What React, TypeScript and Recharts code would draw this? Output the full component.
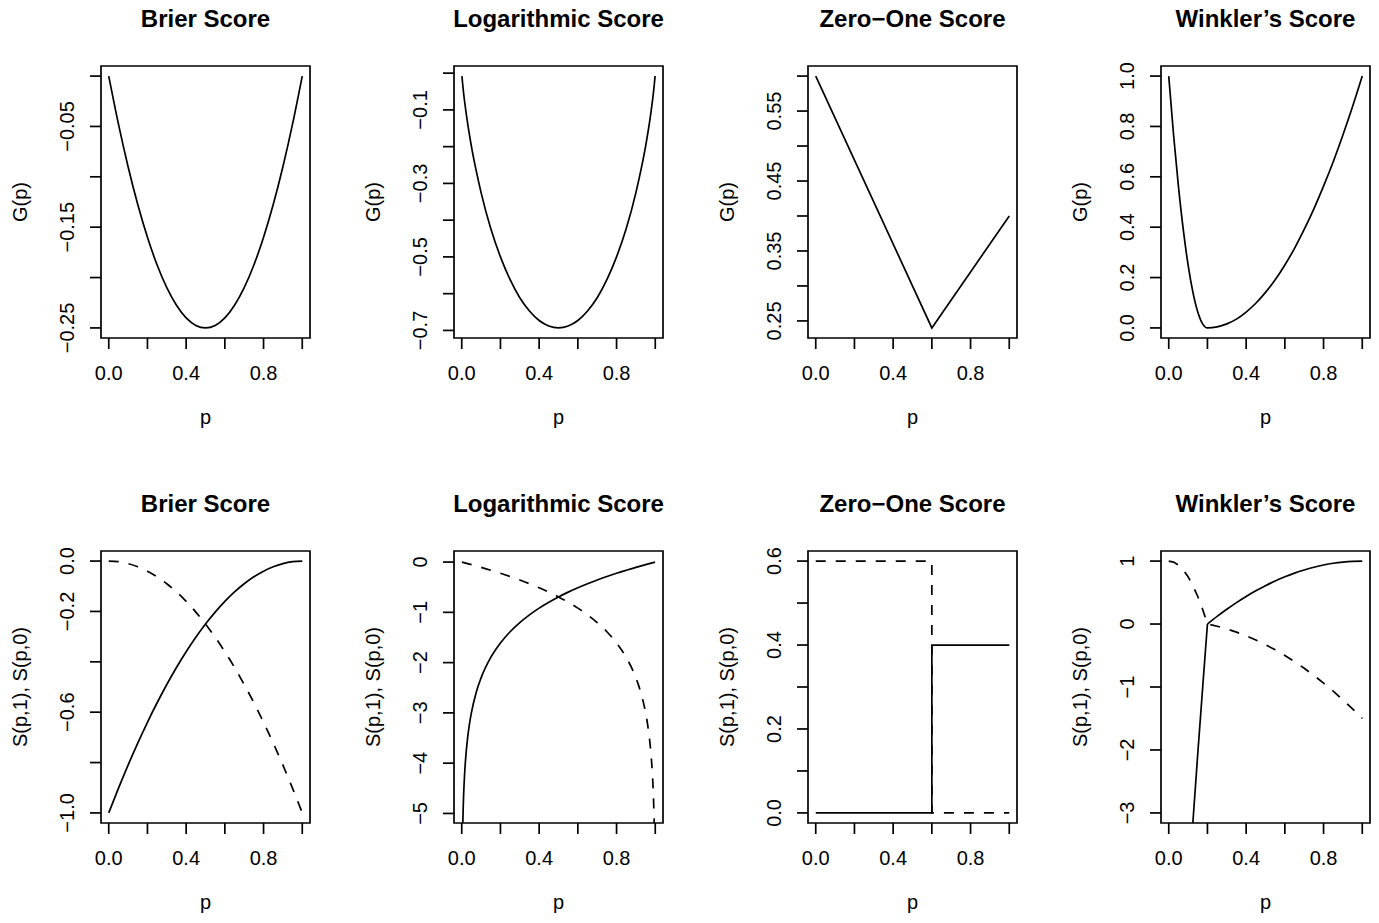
import React from 'react';
import { LineChart, Line, XAxis, YAxis, ReferenceArea } from 'recharts';

const FONT = '"Liberation Sans", Arial, Helvetica, sans-serif';
const INK = '#000000';
const LW = 1.7;

// ---------- shared x axis ----------
const xDomain: [number, number] = [-0.04, 1.04];
const xTicks = [0, 0.2, 0.4, 0.6, 0.8, 1];
const xTickLabels = ['0.0', '', '0.4', '', '0.8', ''];

// ---------- top row: G(p) ----------
const brierGP = [0, 0.05, 0.1, 0.15, 0.2, 0.25, 0.3, 0.35, 0.4, 0.45, 0.5, 0.55, 0.6, 0.65, 0.7, 0.75, 0.8, 0.85, 0.9, 0.95, 1];
const brierG = [0, -0.0475, -0.09, -0.1275, -0.16, -0.1875, -0.21, -0.2275, -0.24, -0.2475, -0.25, -0.2475, -0.24, -0.2275, -0.21, -0.1875, -0.16, -0.1275, -0.09, -0.0475, 0];

const logGP = [0.001, 0.005, 0.01, 0.025, 0.05, 0.075, 0.1, 0.15, 0.2, 0.25, 0.3, 0.35, 0.4, 0.45, 0.5, 0.55, 0.6, 0.65, 0.7, 0.75, 0.8, 0.85, 0.9, 0.925, 0.95, 0.975, 0.99, 0.995, 0.999];
const logG = [-0.008, -0.031, -0.056, -0.117, -0.199, -0.266, -0.325, -0.423, -0.5, -0.562, -0.611, -0.647, -0.673, -0.688, -0.693, -0.688, -0.673, -0.647, -0.611, -0.562, -0.5, -0.423, -0.325, -0.266, -0.199, -0.117, -0.056, -0.031, -0.008];

const zeroOneGP = [0, 0.6, 1];
const zeroOneG = [0.6, 0.24, 0.4];

const winklerGP = [0, 0.025, 0.05, 0.075, 0.1, 0.125, 0.15, 0.175, 0.2, 0.25, 0.3, 0.35, 0.4, 0.45, 0.5, 0.55, 0.6, 0.65, 0.7, 0.75, 0.8, 0.85, 0.9, 0.95, 1];
const winklerG = [1, 0.766, 0.563, 0.391, 0.25, 0.141, 0.063, 0.016, 0, 0.004, 0.016, 0.035, 0.063, 0.098, 0.141, 0.191, 0.25, 0.316, 0.391, 0.473, 0.563, 0.66, 0.766, 0.879, 1];

// ---------- bottom row: S(p,1) solid, S(p,0) dashed ----------
const brierSP = [0, 0.05, 0.1, 0.15, 0.2, 0.25, 0.3, 0.35, 0.4, 0.45, 0.5, 0.55, 0.6, 0.65, 0.7, 0.75, 0.8, 0.85, 0.9, 0.95, 1];
const brierS1 = [-1, -0.9025, -0.81, -0.7225, -0.64, -0.5625, -0.49, -0.4225, -0.36, -0.3025, -0.25, -0.2025, -0.16, -0.1225, -0.09, -0.0625, -0.04, -0.0225, -0.01, -0.0025, 0];
const brierS0 = [0, -0.0025, -0.01, -0.0225, -0.04, -0.0625, -0.09, -0.1225, -0.16, -0.2025, -0.25, -0.3025, -0.36, -0.4225, -0.49, -0.5625, -0.64, -0.7225, -0.81, -0.9025, -1];

const logS1P = [0.001, 0.003, 0.005, 0.0075, 0.01, 0.015, 0.02, 0.03, 0.04, 0.05, 0.075, 0.1, 0.15, 0.2, 0.25, 0.3, 0.35, 0.4, 0.45, 0.5, 0.55, 0.6, 0.65, 0.7, 0.75, 0.8, 0.85, 0.9, 0.95, 0.999];
const logS1 = [-6.908, -5.809, -5.298, -4.893, -4.605, -4.2, -3.912, -3.507, -3.219, -2.996, -2.59, -2.303, -1.897, -1.609, -1.386, -1.204, -1.05, -0.916, -0.799, -0.693, -0.598, -0.511, -0.431, -0.357, -0.288, -0.223, -0.163, -0.105, -0.051, -0.001];
const logS0P = [0.001, 0.05, 0.1, 0.15, 0.2, 0.25, 0.3, 0.35, 0.4, 0.45, 0.5, 0.55, 0.6, 0.65, 0.7, 0.75, 0.8, 0.85, 0.9, 0.925, 0.95, 0.96, 0.97, 0.98, 0.985, 0.99, 0.9925, 0.995, 0.997, 0.999];
const logS0 = [-0.001, -0.051, -0.105, -0.163, -0.223, -0.288, -0.357, -0.431, -0.511, -0.598, -0.693, -0.799, -0.916, -1.05, -1.204, -1.386, -1.609, -1.897, -2.303, -2.59, -2.996, -3.219, -3.507, -3.912, -4.2, -4.605, -4.893, -5.298, -5.809, -6.908];

const zeroOneS1P = [0, 0.6, 0.6, 1];
const zeroOneS1 = [0, 0, 0.4, 0.4];
const zeroOneS0P = [0, 0.6, 0.6, 1];
const zeroOneS0 = [0.6, 0.6, 0, 0];

const winklerS1aP = [0.1, 0.125, 0.15, 0.175, 0.2];
const winklerS1a = [-4.25, -3.14, -2.06, -1.02, 0];
const winklerS1bP = [0.2, 0.25, 0.3, 0.35, 0.4, 0.45, 0.5, 0.55, 0.6, 0.65, 0.7, 0.75, 0.8, 0.85, 0.9, 0.95, 1];
const winklerS1b = [0, 0.121, 0.234, 0.34, 0.438, 0.527, 0.609, 0.684, 0.75, 0.809, 0.859, 0.902, 0.938, 0.965, 0.984, 0.996, 1];
const winklerS0P = [0, 0.025, 0.05, 0.075, 0.1, 0.125, 0.15, 0.175, 0.2, 0.25, 0.3, 0.35, 0.4, 0.45, 0.5, 0.55, 0.6, 0.65, 0.7, 0.75, 0.8, 0.85, 0.9, 0.95, 1];
const winklerS0 = [1, 0.984, 0.938, 0.859, 0.75, 0.609, 0.438, 0.234, 0, -0.035, -0.078, -0.129, -0.188, -0.254, -0.328, -0.41, -0.5, -0.598, -0.703, -0.816, -0.938, -1.066, -1.203, -1.348, -1.5];

// ---------- y axis ticks ----------
const brierGTicks = [0, -0.05, -0.1, -0.15, -0.2, -0.25];
const brierGLabels = ['', '\u22120.05', '', '\u22120.15', '', '\u22120.25'];
const logGTicks = [0, -0.1, -0.2, -0.3, -0.4, -0.5, -0.6, -0.7];
const logGLabels = ['', '\u22120.1', '', '\u22120.3', '', '\u22120.5', '', '\u22120.7'];
const zeroOneGTicks = [0.25, 0.3, 0.35, 0.4, 0.45, 0.5, 0.55, 0.6];
const zeroOneGLabels = ['0.25', '', '0.35', '', '0.45', '', '0.55', ''];
const winklerGTicks = [0, 0.2, 0.4, 0.6, 0.8, 1];
const winklerGLabels = ['0.0', '0.2', '0.4', '0.6', '0.8', '1.0'];
const brierSTicks = [0, -0.2, -0.4, -0.6, -0.8, -1];
const brierSLabels = ['0.0', '\u22120.2', '', '\u22120.6', '', '\u22121.0'];
const logSTicks = [0, -1, -2, -3, -4, -5];
const logSLabels = ['0', '\u22121', '\u22122', '\u22123', '\u22124', '\u22125'];
const zeroOneSTicks = [0, 0.1, 0.2, 0.3, 0.4, 0.5, 0.6];
const zeroOneSLabels = ['0.0', '', '0.2', '', '0.4', '', '0.6'];
const winklerSTicks = [1, 0, -1, -2, -3];
const winklerSLabels = ['1', '0', '\u22121', '\u22122', '\u22123'];

const titles = ['Brier Score', 'Logarithmic Score', 'Zero\u2212One Score', 'Winkler\u2019s Score'];
const yLabTop = 'G(p)';
const yLabBottom = 'S(p,1), S(p,0)';
const xLab = 'p';

// ---------- layout ----------
const COL_LEFT = [101, 454.3, 807.7, 1160.7];
const ROW_TOP = [66, 551];
const BOX_W = 209;
const BOX_H = 272;
const YAXIS_W = 101;
const MARGIN_TOP = 66;
const XAXIS_H = 100;
const MARGIN_RIGHT = 8;

type Curve = 'monotone' | 'linear';
type Series = { p: number[]; v: number[]; dashed?: boolean; curve: Curve };
type Panel = {
  title: string;
  ylab: string;
  col: number;
  row: number;
  yDomain: [number, number];
  yTicks: number[];
  yLabels: string[];
  series: Series[];
};

const panels: Panel[] = [
  { title: titles[0], ylab: yLabTop, col: 0, row: 0, yDomain: [-0.26, 0.01], yTicks: brierGTicks, yLabels: brierGLabels,
    series: [{ p: brierGP, v: brierG, curve: 'monotone' }] },
  { title: titles[1], ylab: yLabTop, col: 1, row: 0, yDomain: [-0.7206, 0.0194], yTicks: logGTicks, yLabels: logGLabels,
    series: [{ p: logGP, v: logG, curve: 'monotone' }] },
  { title: titles[2], ylab: yLabTop, col: 2, row: 0, yDomain: [0.2256, 0.6144], yTicks: zeroOneGTicks, yLabels: zeroOneGLabels,
    series: [{ p: zeroOneGP, v: zeroOneG, curve: 'linear' }] },
  { title: titles[3], ylab: yLabTop, col: 3, row: 0, yDomain: [-0.04, 1.04], yTicks: winklerGTicks, yLabels: winklerGLabels,
    series: [{ p: winklerGP, v: winklerG, curve: 'monotone' }] },
  { title: titles[0], ylab: yLabBottom, col: 0, row: 1, yDomain: [-1.04, 0.04], yTicks: brierSTicks, yLabels: brierSLabels,
    series: [{ p: brierSP, v: brierS1, curve: 'monotone' }, { p: brierSP, v: brierS0, curve: 'monotone', dashed: true }] },
  { title: titles[1], ylab: yLabBottom, col: 1, row: 1, yDomain: [-5.19, 0.22], yTicks: logSTicks, yLabels: logSLabels,
    series: [{ p: logS1P, v: logS1, curve: 'monotone' }, { p: logS0P, v: logS0, curve: 'monotone', dashed: true }] },
  { title: titles[2], ylab: yLabBottom, col: 2, row: 1, yDomain: [-0.024, 0.624], yTicks: zeroOneSTicks, yLabels: zeroOneSLabels,
    series: [{ p: zeroOneS1P, v: zeroOneS1, curve: 'linear' }, { p: zeroOneS0P, v: zeroOneS0, curve: 'linear', dashed: true }] },
  { title: titles[3], ylab: yLabBottom, col: 3, row: 1, yDomain: [-3.16, 1.16], yTicks: winklerSTicks, yLabels: winklerSLabels,
    series: [
      { p: winklerS1aP, v: winklerS1a, curve: 'linear' },
      { p: winklerS1bP, v: winklerS1b, curve: 'monotone' },
      { p: winklerS0P, v: winklerS0, curve: 'linear', dashed: true },
    ] },
];

const zip = (p: number[], v: number[]) => p.map((x, i) => ({ p: x, v: v[i] }));

const labelFor = (ticks: number[], labels: string[], value: number) => {
  const i = ticks.findIndex((t) => Math.abs(t - value) < 1e-9);
  return i >= 0 ? labels[i] : '';
};

const XTick = (props: any) => {
  const { x, y, payload } = props;
  const label = labelFor(xTicks, xTickLabels, payload.value);
  if (!label) return <g />;
  return (
    <text x={x} y={y} textAnchor="middle" fontSize={20} fontFamily={FONT} fill={INK}>
      {label}
    </text>
  );
};

const makeYTick = (ticks: number[], labels: string[]) => (props: any) => {
  const { x, y, payload } = props;
  const label = labelFor(ticks, labels, payload.value);
  if (!label) return <g />;
  return (
    <text x={x} y={y} transform={`rotate(-90 ${x} ${y})`} textAnchor="middle" fontSize={20} fontFamily={FONT} fill={INK}>
      {label}
    </text>
  );
};

const makePanelLabels = (title: string, ylab: string) => (props: any) => {
  const vb = props.viewBox || {};
  const { x, y, width, height } = vb;
  if (typeof x !== 'number') return null;
  const cx = x + width / 2;
  const cy = y + height / 2;
  const yx = x - 74;
  return (
    <g>
      <text x={cx} y={y - 39} textAnchor="middle" fontSize={24} fontWeight="bold" fontFamily={FONT} fill={INK}>
        {title}
      </text>
      <text x={cx} y={y + height + 86} textAnchor="middle" fontSize={20} fontFamily={FONT} fill={INK}>
        {xLab}
      </text>
      <text x={yx} y={cy} transform={`rotate(-90 ${yx} ${cy})`} textAnchor="middle" fontSize={20} fontFamily={FONT} fill={INK}>
        {ylab}
      </text>
    </g>
  );
};

const PanelChart = ({ panel }: { panel: Panel }) => {
  const left = COL_LEFT[panel.col] - YAXIS_W;
  const top = ROW_TOP[panel.row] - MARGIN_TOP;
  const width = YAXIS_W + BOX_W + MARGIN_RIGHT;
  const height = MARGIN_TOP + BOX_H + XAXIS_H;
  return (
    <div style={{ position: 'absolute', left, top, width, height }}>
      <LineChart width={width} height={height} margin={{ top: MARGIN_TOP, right: MARGIN_RIGHT, bottom: 0, left: 0 }}>
        <XAxis
          type="number"
          dataKey="p"
          domain={xDomain}
          allowDataOverflow
          ticks={xTicks}
          interval={0}
          height={XAXIS_H}
          axisLine={false}
          stroke={INK}
          tickLine={{ stroke: INK, strokeWidth: LW }}
          tickSize={11}
          tickMargin={31}
          tick={XTick}
        />
        <YAxis
          type="number"
          dataKey="v"
          domain={panel.yDomain}
          allowDataOverflow
          ticks={panel.yTicks}
          interval={0}
          width={YAXIS_W}
          axisLine={false}
          stroke={INK}
          tickLine={{ stroke: INK, strokeWidth: LW }}
          tickSize={11}
          tickMargin={16}
          tick={makeYTick(panel.yTicks, panel.yLabels)}
        />
        <ReferenceArea
          x1={xDomain[0]}
          x2={xDomain[1]}
          y1={panel.yDomain[0]}
          y2={panel.yDomain[1]}
          ifOverflow="visible"
          fill="none"
          fillOpacity={0}
          stroke={INK}
          strokeWidth={LW}
          strokeOpacity={1}
          label={makePanelLabels(panel.title, panel.ylab)}
        />
        {panel.series.map((s, i) => (
          <Line
            key={i}
            data={zip(s.p, s.v)}
            dataKey="v"
            type={s.curve}
            stroke={INK}
            strokeWidth={LW}
            strokeDasharray={s.dashed ? '10 10' : undefined}
            dot={false}
            activeDot={false}
            isAnimationActive={false}
          />
        ))}
      </LineChart>
    </div>
  );
};

export default function App() {
  return (
    <div
      style={{
        position: 'absolute',
        left: 0,
        top: 0,
        width: 1379,
        height: 923,
        overflow: 'hidden',
        background: '#ffffff',
        fontFamily: FONT,
      }}
    >
      {panels.map((panel, i) => (
        <PanelChart key={i} panel={panel} />
      ))}
    </div>
  );
}
